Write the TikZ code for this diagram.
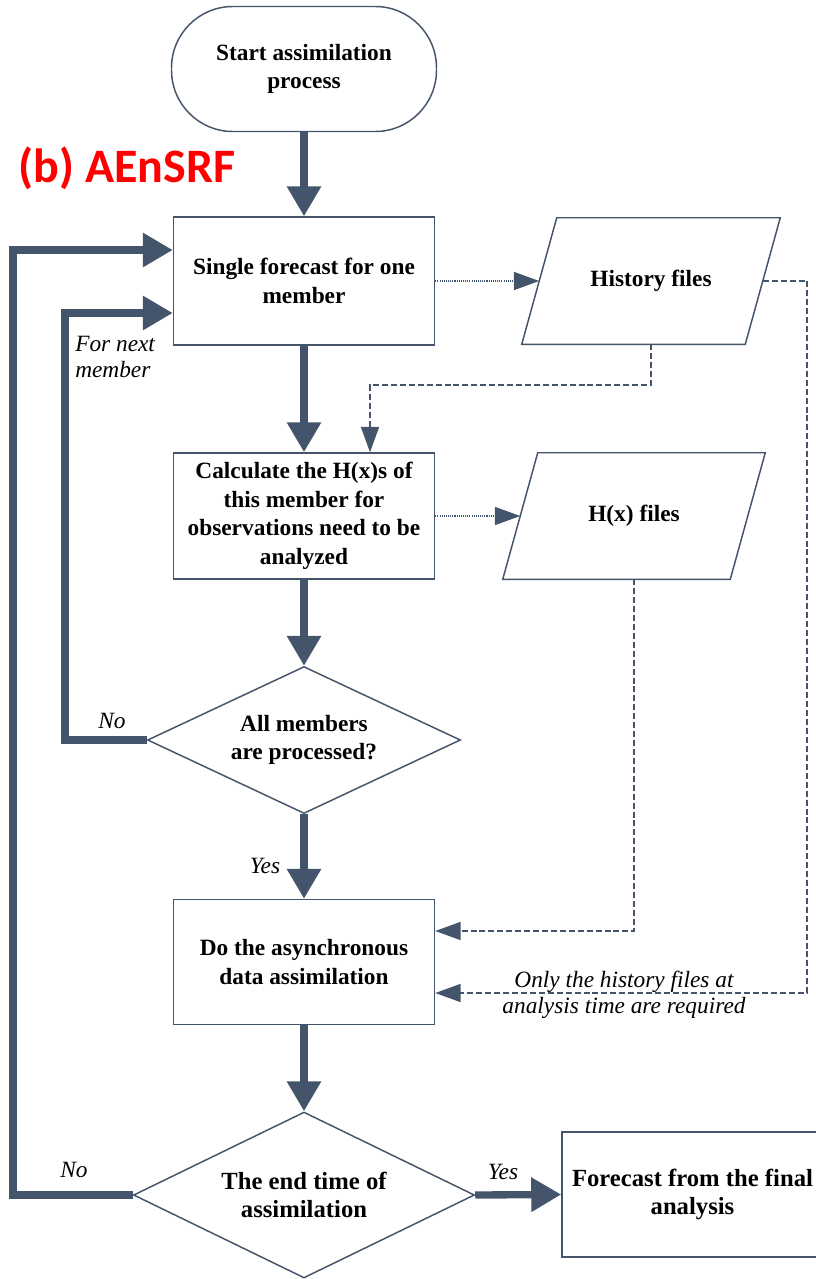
\documentclass[tikz,border=0pt]{standalone}
\usepackage{fontspec}
\IfFontExistsTF{Liberation Serif}{\setmainfont{Liberation Serif}}{\setmainfont{DejaVu Serif}}
\newfontfamily\labfont{Carlito}
\usetikzlibrary{arrows.meta,calc,shapes.geometric}
\definecolor{lc}{HTML}{44546A}
\definecolor{redlab}{HTML}{FF0000}
\begin{document}
\begin{tikzpicture}[x=0.75pt,y=-0.75pt,
  txt/.style={font=\rmfamily\fontsize{17.5}{21.5}\selectfont\bfseries,align=center},
  box/.style={txt,draw=lc,line width=1.1pt,fill=white,minimum width=195.75pt,inner sep=0pt},
  startbox/.style={box,rounded corners=46pt,minimum width=198.75pt,minimum height=93.75pt},
  decision/.style={txt,draw=lc,line width=1.1pt,fill=white,shape=diamond,shape aspect=2.13,inner sep=0pt},
  datanode/.style={txt,inner sep=0pt},
  para/.style={draw=lc,line width=1.1pt,fill=white},
  lab/.style={font=\rmfamily\fontsize{17.5}{19.5}\selectfont\itshape,align=center,inner sep=0pt},
  thickarr/.style={draw=lc,line width=5.5pt,line join=miter,-{Triangle[length=22.5pt,width=24.5pt]}},
  dotarr/.style={draw=lc,line width=1.1pt,dash pattern=on 0.8pt off 0.8pt,-{Triangle[length=19pt,width=13.5pt]}},
  dasharr/.style={draw=lc,line width=1.1pt,dash pattern=on 4.5pt off 2.2pt,-{Triangle[length=19pt,width=13.5pt]}}
]
\useasboundingbox (0,0) rectangle (816,1279);
\clip (0,0) rectangle (816,1279);

% nodes
\node[startbox] (start) at (304,69) {Start assimilation\\process};
\node[font=\labfont\fontsize{36}{40}\selectfont\bfseries,text=redlab,inner sep=0pt] (title) at (127,168) {(b) AEnSRF};
\node[box,minimum height=96pt] (b1) at (304,281) {Single forecast for one\\member};
\node[box,minimum height=94.5pt,font=\rmfamily\fontsize{17.5}{21.4}\selectfont\bfseries] (b2) at (304,516) {Calculate the H(x)s of\\this member for\\observations need to be\\analyzed};
\node[decision,minimum width=234.75pt,minimum height=110.25pt] (d1) at (304,740) {All members\\are processed?};
\node[box,minimum height=93.75pt] (b3) at (304,962) {Do the asynchronous\\data assimilation};
\node[decision,minimum width=255.75pt,minimum height=124.5pt,shape aspect=2.05,font=\rmfamily\fontsize{18.5}{21.5}\selectfont\bfseries] (d2) at (304,1195) {The end time of\\assimilation};
\node[box,minimum height=93.75pt,font=\rmfamily\fontsize{18.5}{21.5}\selectfont\bfseries] (b4) at (692.5,1194.5) {Forecast from the final\\analysis};

% data (parallelogram) nodes
\node[datanode,minimum width=193.5pt,minimum height=94.5pt] (hist) at (651,281) {};
\draw[para] (hist.south west) -- ($(hist.north west)+(35,0)$) -- (hist.north east) -- ($(hist.south east)+(-35,0)$) -- cycle;
\node[txt] at (hist.center) {History files};
\node[datanode,minimum width=196.5pt,minimum height=94.5pt] (hx) at (634,516) {};
\draw[para] (hx.south west) -- ($(hx.north west)+(35,0)$) -- (hx.north east) -- ($(hx.south east)+(-35,0)$) -- cycle;
\node[txt] at (hx.center) {H(x) files};

% coordinates on the slanted edges and routing points
\coordinate (hl) at ($(hist.west)+(17.5,0)$);
\coordinate (hr) at ($(hist.east)+(-17.5,0)$);
\coordinate (hxl) at ($(hx.west)+(17.5,0)$);
\coordinate (c1) at (370,385);
\coordinate (c2) at (807,993);
\coordinate (c3) at (65,313);
\coordinate (c4) at (13,250);

% main flow
\draw[thickarr] (start) -- (b1);
\draw[thickarr] (b1) -- (b2);
\draw[thickarr] (b2) -- (d1.north);
\draw[thickarr] (d1.south) -- (b3);
\draw[thickarr] (b3) -- (d2.north);
\draw[thickarr] (d2.east) -- (b4.west);

% loops
\draw[thickarr] (d1.west) -| (c3) -- (c3 -| b1.west);
\draw[thickarr] (d2.west) -| (c4) -- (c4 -| b1.west);

% data links
\draw[dotarr] (b1.east) -- (hl);
\draw[dotarr] (b2.east) -- (hxl);
\draw[dasharr] (hist.south) |- (c1) -- (c1 |- b2.north);
\draw[dasharr] (hr) -| (c2) -- (c2 -| b3.east);
\draw[dasharr] (hx.south) |- ($(b3.east)+(0,-31)$);

% labels
\node[lab,align=left,anchor=west] (lnext) at (75,357) {For next\\member};
\node[lab] (lno1) at (112,721) {No};
\node[lab] (lyes1) at (265,866) {Yes};
\node[lab] (lno2) at (74,1170) {No};
\node[lab] (lyes2) at (503,1172) {Yes};
\node[lab] (lonly) at (624,995) {Only the history files at\\analysis time are required};
\end{tikzpicture}
\end{document}
